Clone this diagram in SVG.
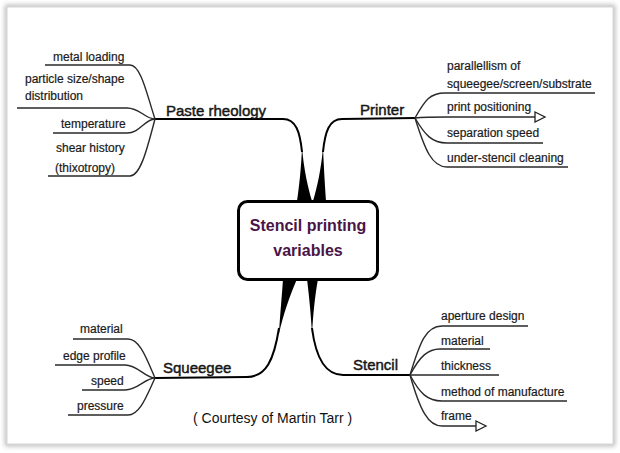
<svg xmlns="http://www.w3.org/2000/svg" width="620" height="453" viewBox="0 0 620 453">
<defs>
<filter id="sh" x="-5%" y="-5%" width="110%" height="110%"><feGaussianBlur stdDeviation="2.5"/></filter>
<marker id="tri" markerUnits="userSpaceOnUse" markerWidth="14" markerHeight="12" refX="1" refY="6" orient="auto"><path d="M1,1 L11,6 L1,11 Z" fill="#fff" stroke="#222" stroke-width="1.3"/></marker>
</defs>
<style>
text{font-family:"Liberation Sans",Arial,sans-serif;fill:#1a1a1a}
.sub{font-size:12px;stroke:#1a1a1a;stroke-width:0.2}
.br{font-size:15px;stroke:#111;stroke-width:0.45}
.ctr{font-size:16px;font-weight:bold;fill:#4a1446}
.cr{font-size:14px;fill:#111}
.thin{fill:none;stroke:#2a2a2a;stroke-width:1.4}
.main{fill:none;stroke:#000;stroke-width:2}
.wedge{fill:#000;stroke:none}
</style>
<rect x="0" y="0" width="620" height="453" fill="#fff"/>
<rect x="7" y="7" width="606" height="437" fill="none" stroke="#b0b0b0" stroke-width="4" filter="url(#sh)"/>
<rect x="7" y="7" width="606" height="437" fill="#fff" stroke="#d6d6d6" stroke-width="1"/>
<g id="connectors">
<path class="main" d="M155,119 L283,119 C296,119 300,132 302,152"/>
<path class="wedge" d="M302,148 C301,170 299,188 297,201 L312,201 C308,188 304,170 302,148 Z"/>
<path class="main" d="M415,118 L342,119 C329,119 325,132 323,152"/>
<path class="wedge" d="M323,148 C321,170 317,188 313,201 L326,201 C325,188 324,170 323,148 Z"/>
<path class="main" d="M155,378 L247,377 C266,377 274,360 279,328"/>
<path class="wedge" d="M283,279 L297,279 C290,295 283,315 279,334 C280,315 282,295 283,279 Z"/>
<path class="main" d="M410,375 L343,375 C326,375 316,360 312,328"/>
<path class="wedge" d="M307,279 L318,279 C315,295 313,315 312,334 C311,315 309,295 307,279 Z"/>
<path class="thin" d="M45,65 L130,65 C141,65 147,95 155,119"/>
<path class="thin" d="M17,108 L127,108 C140,108 145,119 155,119"/>
<path class="thin" d="M53,133 L127,133 C140,133 145,119 155,119"/>
<path class="thin" d="M48,176 L130,176 C141,176 148,145 155,119"/>
<path class="thin" d="M73,339 L128,339 C140,339 147,360 155,378"/>
<path class="thin" d="M55,365 L125,365 C138,365 145,378 155,378"/>
<path class="thin" d="M82,390 L125,390 C138,390 145,378 155,378"/>
<path class="thin" d="M68,415 L128,415 C140,415 147,395 155,378"/>
<path class="thin" d="M415,118 C425,100 430,93 445,93 L595,93"/>
<path class="thin" d="M415,118 C425,117 435,117 447,117 L535,117" marker-end="url(#tri)"/>
<path class="thin" d="M415,118 C425,135 432,143 447,143 L543,143"/>
<path class="thin" d="M415,118 C425,150 432,167 447,167 L568,167"/>
<path class="thin" d="M410,375 C420,342 426,326 442,326 L528,326"/>
<path class="thin" d="M410,375 C420,356 428,349 440,349 L490,349"/>
<path class="thin" d="M410,375 L499,375"/>
<path class="thin" d="M410,375 C420,394 428,401 442,401 L567,401"/>
<path class="thin" d="M410,375 C420,410 428,426 442,426 L476,426" marker-end="url(#tri)"/>
</g>
<g id="center">
<rect x="238.5" y="201.5" width="139" height="78" rx="9" fill="#fff" stroke="#000" stroke-width="3"/>
<text class="ctr" x="308" y="231" text-anchor="middle">Stencil printing</text>
<text class="ctr" x="308" y="256" text-anchor="middle">variables</text>
</g>
<g id="paste-rheology">
<text class="br" x="166" y="116">Paste rheology</text>
<text class="sub" x="53" y="61">metal loading</text>
<text class="sub" x="25" y="83">particle size/shape</text>
<text class="sub" x="25" y="100">distribution</text>
<text class="sub" x="61" y="128">temperature</text>
<text class="sub" x="56" y="152">shear history</text>
<text class="sub" x="55" y="172">(thixotropy)</text>
</g>
<g id="printer">
<text class="br" x="360" y="115">Printer</text>
<text class="sub" x="447" y="70">parallellism of</text>
<text class="sub" x="447" y="88">squeegee/screen/substrate</text>
<text class="sub" x="447" y="111">print positioning</text>
<text class="sub" x="447" y="137">separation speed</text>
<text class="sub" x="447" y="162">under-stencil cleaning</text>
</g>
<g id="squeegee">
<text class="br" x="163" y="373">Squeegee</text>
<text class="sub" x="80" y="333">material</text>
<text class="sub" x="63" y="360">edge profile</text>
<text class="sub" x="91" y="385">speed</text>
<text class="sub" x="77" y="410">pressure</text>
</g>
<g id="stencil">
<text class="br" x="353" y="370">Stencil</text>
<text class="sub" x="441" y="320">aperture design</text>
<text class="sub" x="441" y="345">material</text>
<text class="sub" x="441" y="370">thickness</text>
<text class="sub" x="441" y="396">method of manufacture</text>
<text class="sub" x="441" y="420">frame</text>
</g>
<text class="cr" x="193" y="423">( Courtesy of Martin Tarr )</text>
</svg>
